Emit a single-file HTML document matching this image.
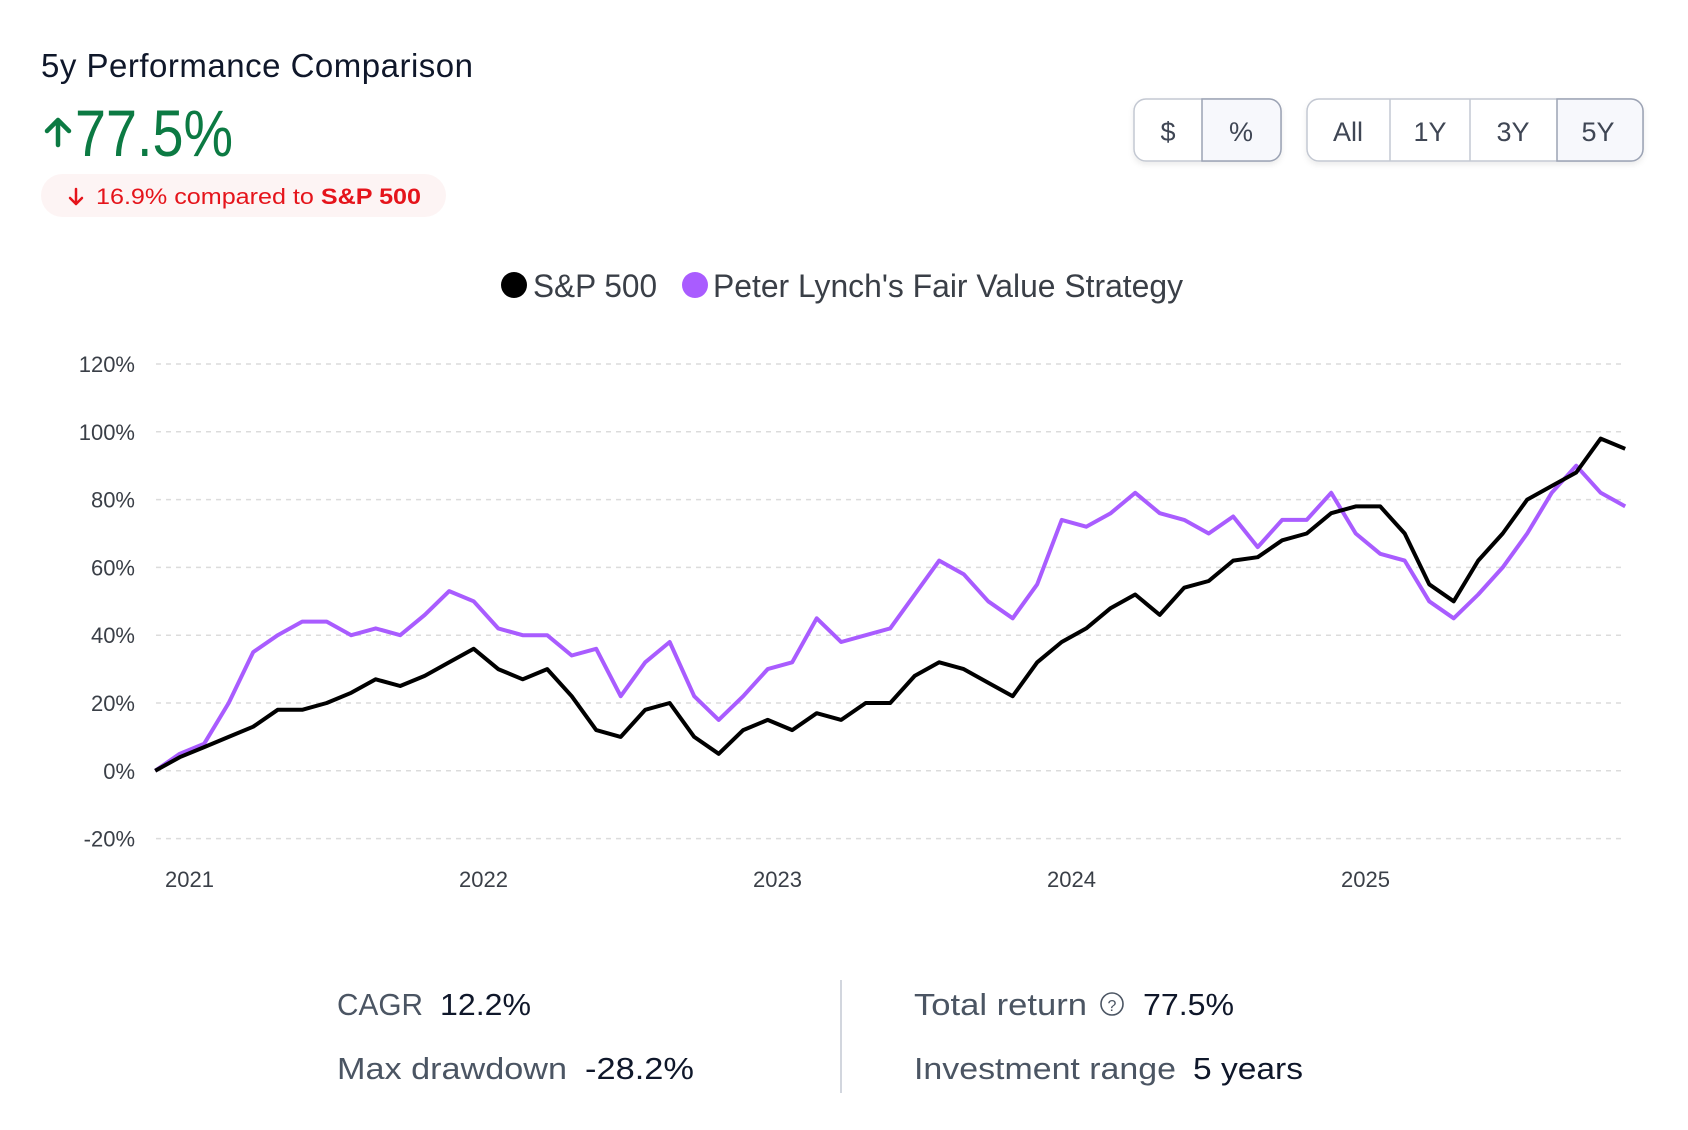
<!DOCTYPE html>
<html><head><meta charset="utf-8"><style>
html,body{margin:0;padding:0;background:#fff;width:1688px;height:1130px;overflow:hidden}
svg{display:block}
text{font-family:"Liberation Sans",sans-serif}
</style></head><body>
<svg id="root" width="1688" height="1130" viewBox="0 0 1688 1130" xmlns="http://www.w3.org/2000/svg">
  <text x="41" y="77" font-size="33" fill="#0f172a" textLength="432">5y Performance Comparison</text>
  <g>
    <path d="M58 145 L58 120 M47 131 L58 120 L69 131" stroke="#0c7a43" stroke-width="4.5" fill="none" stroke-linecap="round" stroke-linejoin="round"/>
    <text x="75" y="156" font-size="66" fill="#0c7a43" textLength="158" lengthAdjust="spacingAndGlyphs">77.5%</text>
  </g>
  <g>
    <rect x="41" y="174" width="405" height="43" rx="21.5" fill="#fdf4f4"/>
    <path d="M76 189 L76 204 M70 198 L76 204 L82 198" stroke="#e5141b" stroke-width="2.5" fill="none" stroke-linecap="round" stroke-linejoin="round"/>
    <text x="96" y="204" font-size="22" fill="#e5141b" textLength="325" lengthAdjust="spacingAndGlyphs">16.9% compared to <tspan font-weight="bold">S&amp;P 500</tspan></text>
  </g>
  <defs><filter id="sh" x="-10%" y="-20%" width="120%" height="160%"><feDropShadow dx="0" dy="3" stdDeviation="3" flood-color="#000" flood-opacity="0.08"/></filter></defs>
  <g>
    <rect x="1134" y="99" width="147" height="62" rx="12" fill="#fff" stroke="#c3c8d2" stroke-width="1.5" filter="url(#sh)"/>
    <path d="M1202 99 H1269 a12 12 0 0 1 12 12 V149 a12 12 0 0 1 -12 12 H1202 Z" fill="#f7f8fc" stroke="#9ca3b4" stroke-width="1.5"/>
    <text x="1168" y="141" font-size="27" fill="#3f4654" text-anchor="middle">$</text>
    <text x="1241" y="141" font-size="27" fill="#3f4654" text-anchor="middle">%</text>
  </g>
  <g>
    <rect x="1307" y="99" width="336" height="62" rx="12" fill="#fff" stroke="#c3c8d2" stroke-width="1.5" filter="url(#sh)"/>
    <path d="M1557 99 H1631 a12 12 0 0 1 12 12 V149 a12 12 0 0 1 -12 12 H1557 Z" fill="#f7f8fc" stroke="#9ca3b4" stroke-width="1.5"/>
    <line x1="1390" y1="99" x2="1390" y2="161" stroke="#c3c8d2" stroke-width="1.5"/>
    <line x1="1470" y1="99" x2="1470" y2="161" stroke="#c3c8d2" stroke-width="1.5"/>
    <text x="1348" y="141" font-size="27" fill="#3f4654" text-anchor="middle">All</text>
    <text x="1430" y="141" font-size="27" fill="#3f4654" text-anchor="middle">1Y</text>
    <text x="1513" y="141" font-size="27" fill="#3f4654" text-anchor="middle">3Y</text>
    <text x="1598" y="141" font-size="27" fill="#3f4654" text-anchor="middle">5Y</text>
  </g>
  <g>
    <g>
      <circle cx="514" cy="285" r="13" fill="#000"/>
      <text x="533" y="297" font-size="32" fill="#3a3f47" textLength="124" lengthAdjust="spacingAndGlyphs">S&amp;P 500</text>
    </g>
    <g>
      <circle cx="695" cy="285" r="13" fill="#a95cff"/>
      <text x="713" y="297" font-size="32" fill="#3a3f47" textLength="470" lengthAdjust="spacingAndGlyphs">Peter Lynch's Fair Value Strategy</text>
    </g>
  </g>
  <g id="chart"></g>
  <g>
    <text x="337" y="1015" font-size="31" fill="#4b5563" textLength="86" lengthAdjust="spacingAndGlyphs">CAGR</text>
    <text x="440" y="1015" font-size="31" fill="#0f172a" textLength="91" lengthAdjust="spacingAndGlyphs">12.2%</text>
    <text x="337" y="1079" font-size="31" fill="#4b5563" textLength="230" lengthAdjust="spacingAndGlyphs">Max drawdown</text>
    <text x="585" y="1079" font-size="31" fill="#0f172a" textLength="109" lengthAdjust="spacingAndGlyphs">-28.2%</text>
    <line x1="841" y1="980" x2="841" y2="1093" stroke="#c3c8d2" stroke-width="1.5"/>
    <text x="914" y="1015" font-size="31" fill="#4b5563" textLength="173" lengthAdjust="spacingAndGlyphs">Total return</text>
    <g>
      <circle cx="1112" cy="1004" r="11" fill="none" stroke="#4b5563" stroke-width="1.6"/>
      <text x="1112" y="1011" font-size="16" fill="#4b5563" text-anchor="middle">?</text>
    </g>
    <text x="1143" y="1015" font-size="31" fill="#0f172a" textLength="91" lengthAdjust="spacingAndGlyphs">77.5%</text>
    <text x="914" y="1079" font-size="31" fill="#4b5563" textLength="262" lengthAdjust="spacingAndGlyphs">Investment range</text>
    <text x="1193" y="1079" font-size="31" fill="#0f172a" textLength="110" lengthAdjust="spacingAndGlyphs">5 years</text>
  </g>
</svg>
<script>
const monthOffsets = [-1.4,-0.4,0.6,1.6,2.6,3.6,4.6,5.6,6.6,7.6,8.6,9.6,10.6,11.6,12.6,13.6,14.6,15.6,16.6,17.6,18.6,19.6,20.6,21.6,22.6,23.6,24.6,25.6,26.6,27.6,28.6,29.6,30.6,31.6,32.6,33.6,34.6,35.6,36.6,37.6,38.6,39.6,40.6,41.6,42.6,43.6,44.6,45.6,46.6,47.6,48.6,49.6,50.6,51.6,52.6,53.6,54.6,55.6,56.6,57.6,58.6];
const spValues = [0,4,7,10,13,18,18,20,23,27,25,28,32,36,30,27,30,22,12,10,18,20,10,5,12,15,12,17,15,20,20,28,32,30,26,22,32,38,42,48,52,46,54,56,62,63,68,70,76,78,78,70,55,50,62,70,80,84,88,98,95];
const strategyValues = [0,5,8,20,35,40,44,44,40,42,40,46,53,50,42,40,40,34,36,22,32,38,22,15,22,30,32,45,38,40,42,52,62,58,50,45,55,74,72,76,82,76,74,70,75,66,74,74,82,70,64,62,50,45,52,60,70,82,90,82,78];
const yTicks = [-20,0,20,40,60,80,100,120];
const yearLabels = ["2021","2022","2023","2024","2025"];
const yearOffsets = [0,12,24,36,48];

const NS = "http://www.w3.org/2000/svg";
const chart = document.getElementById('chart');
const xScale = m => 189.5 + m * 24.5;
const yScale = v => 770.8 - v * (67.8 / 20);

yTicks.forEach(t => {
  const ln = document.createElementNS(NS, 'line');
  
  
  ln.setAttribute('x1', 156); ln.setAttribute('x2', 1622);
  ln.setAttribute('y1', yScale(t)); ln.setAttribute('y2', yScale(t));
  ln.setAttribute('stroke', '#dcdcdc'); ln.setAttribute('stroke-width', '1.5');
  ln.setAttribute('stroke-dasharray', '5 5');
  chart.appendChild(ln);
  const tx = document.createElementNS(NS, 'text');
  
  
  tx.setAttribute('x', 135); tx.setAttribute('y', yScale(t) + 8);
  tx.setAttribute('text-anchor', 'end'); tx.setAttribute('font-size', '22');
  tx.setAttribute('fill', '#3a3f47');
  tx.textContent = t + '%';
  chart.appendChild(tx);
});
yearLabels.forEach((lab, i) => {
  const tx = document.createElementNS(NS, 'text');
  
  
  tx.setAttribute('x', xScale(yearOffsets[i])); tx.setAttribute('y', 887);
  tx.setAttribute('text-anchor', 'middle'); tx.setAttribute('font-size', '22');
  tx.setAttribute('fill', '#3a3f47');
  tx.textContent = lab;
  chart.appendChild(tx);
});
function drawLine(vals, color, name) {
  const p = document.createElementNS(NS, 'path');
  
  
  p.setAttribute('d', vals.map((v, i) => (i ? 'L' : 'M') + xScale(monthOffsets[i]).toFixed(1) + ' ' + yScale(v).toFixed(1)).join(' '));
  p.setAttribute('fill', 'none'); p.setAttribute('stroke', color);
  p.setAttribute('stroke-width', '4'); p.setAttribute('stroke-linejoin', 'round');
  chart.appendChild(p);
}
drawLine(strategyValues, '#a95cff', 'strategy-line');
drawLine(spValues, '#000000', 'sp500-line');
</script>
</body></html>
